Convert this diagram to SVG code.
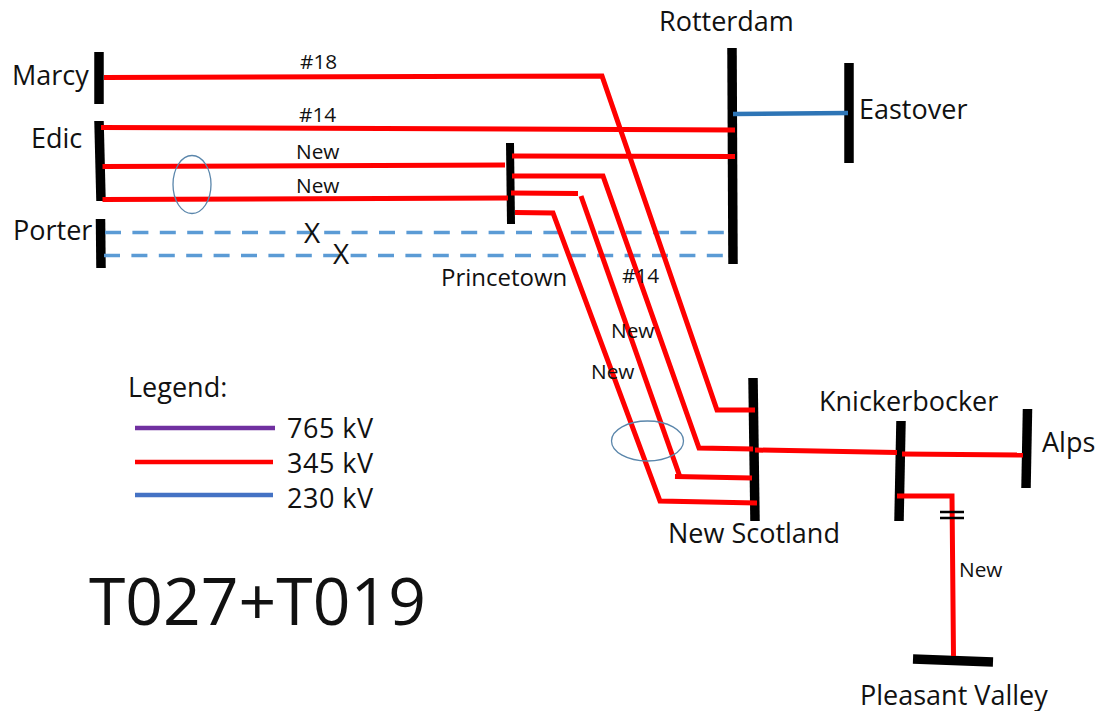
<svg xmlns="http://www.w3.org/2000/svg" width="1095" height="711" viewBox="0 0 1095 711">
<style>
text{font-family:"Open Sans","Noto Sans","Liberation Sans",sans-serif;fill:#111}
.l{font-size:27px}
.m{font-size:24px}
.s{font-size:20.800px}
.k{font-size:27px;letter-spacing:.5px}
.bus{stroke:#000;stroke-width:9.500;fill:none}
.r{stroke:#f00;stroke-width:5;fill:none;stroke-linejoin:miter}
.d{stroke:#5b9bd5;stroke-width:3.500;stroke-dasharray:16 11.400;fill:none}
.e{stroke:#5a86ab;stroke-width:1.300;fill:none}
.x{stroke:#000;stroke-width:2.500;fill:none}
</style>
<rect width="1095" height="711" fill="#fff"/>
<g id="marcy"><path class="bus" d="M99 52V104"/><text class="l" x="12" y="85">Marcy</text></g>
<g id="edic"><path class="bus" d="M99 121L101 201"/><text class="l" x="31" y="148">Edic</text></g>
<g id="porter"><path class="bus" d="M100.500 219L101 268"/><text class="l" x="13" y="240">Porter</text></g>
<g id="princetown"><path class="bus" style="stroke-width:8" d="M510 143L511 224"/><text class="m" x="441" y="286">Princetown</text></g>
<g id="rotterdam"><path class="bus" d="M732 48L733 264"/><text class="l" x="659" y="31">Rotterdam</text></g>
<g id="eastover"><path class="bus" d="M849 63V163"/><text class="l" x="859" y="119">Eastover</text></g>
<g id="new-scotland"><path class="bus" d="M753 378L755 521"/><text class="l" x="668" y="543">New Scotland</text></g>
<g id="knickerbocker"><path class="bus" d="M901 421L899 521"/><text class="l" x="819" y="411">Knickerbocker</text></g>
<g id="alps"><path class="bus" d="M1027.500 409L1026 488"/><text class="l" x="1042" y="452">Alps</text></g>
<g id="pleasant-valley"><path class="bus" d="M913 659L993 662"/><text class="l" x="860" y="705">Pleasant Valley</text></g>
<g id="connectors">
<path class="d" d="M105 232.500H724"/>
<path class="d" d="M104 255.500H723"/>
<path class="r" d="M104 77.500L602 76L717 410H755"/>
<path class="r" d="M101 127.500L735 130"/>
<path class="r" d="M102.500 166.500L505 165"/>
<path class="r" d="M102.500 199.500L508 198"/>
<path class="r" d="M512 156L735 156.500"/>
<path class="r" d="M512 176L603 176L699 448L753 449"/>
<path class="r" d="M511 193L578 193.500"/>
<path class="r" d="M581 196L680 477"/>
<path class="r" d="M675 476.500L752 478"/>
<path class="r" d="M515 212.500L553 213L660 501L757 503"/>
<path class="r" d="M755 450L897 452.500"/>
<path class="r" d="M902 454L1023 455"/>
<path class="r" d="M897 496H952L953.500 656"/>
<path d="M733 114L848 113" stroke="#2e75b6" stroke-width="4.500" fill="none"/>
<path class="x" d="M940 512H964M940 518H964"/>
<ellipse class="e" cx="192" cy="184.500" rx="19" ry="29"/>
<ellipse class="e" cx="647.500" cy="441" rx="36" ry="20"/>
<path d="M135 428H275" stroke="#7030a0" stroke-width="4.500" fill="none"/>
<path d="M135 462H273" stroke="#f00" stroke-width="4.500" fill="none"/>
<path d="M135 495H273" stroke="#4472c4" stroke-width="4.500" fill="none"/>
</g>
<g id="labels">
<text class="s" x="300" y="69">#18</text>
<text class="s" x="299" y="122">#14</text>
<text class="s" x="296" y="159">New</text>
<text class="s" x="296" y="193">New</text>
<text class="s" x="622" y="283">#14</text>
<text class="s" x="611" y="338">New</text>
<text class="s" x="591" y="379">New</text>
<text class="s" x="959" y="577">New</text>
<text style="font-size:28px" x="304" y="243">X</text>
<text style="font-size:28px" x="333" y="264">X</text>
<text class="l" x="128" y="397">Legend:</text>
<text class="k" x="287" y="438">765 kV</text>
<text class="k" x="287" y="473">345 kV</text>
<text class="k" x="287" y="508">230 kV</text>
<text x="89" y="625" style="font-size:66px">T027+T019</text>
</g>
</svg>
